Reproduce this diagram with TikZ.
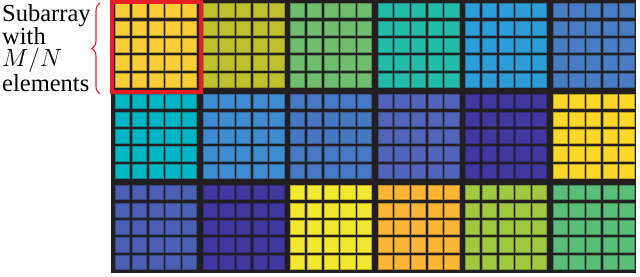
\documentclass[tikz,border=0pt]{standalone}
\usepackage{fontspec}
\setmainfont{Liberation Serif}
\usetikzlibrary{decorations.pathreplacing}
\definecolor{bgdark}{RGB}{35,31,32}
\definecolor{redmark}{RGB}{232,30,38}
\definecolor{cA}{RGB}{250,205,55}
\definecolor{cB}{RGB}{190,192,45}
\definecolor{cC}{RGB}{110,190,110}
\definecolor{cD}{RGB}{35,188,170}
\definecolor{cE}{RGB}{45,157,218}
\definecolor{cF}{RGB}{72,125,196}
\definecolor{cG}{RGB}{0,182,196}
\definecolor{cH}{RGB}{62,140,210}
\definecolor{cI}{RGB}{70,120,195}
\definecolor{cJ}{RGB}{82,100,185}
\definecolor{cK}{RGB}{65,55,160}
\definecolor{cL}{RGB}{252,215,40}
\definecolor{cM}{RGB}{75,95,180}
\definecolor{cN}{RGB}{65,55,160}
\definecolor{cO}{RGB}{242,232,45}
\definecolor{cP}{RGB}{252,182,52}
\definecolor{cQ}{RGB}{160,200,65}
\definecolor{cR}{RGB}{88,190,120}
\tikzset{
  cellbox/.style={fill=#1, draw=#1!75!black, line width=0.8pt},
  labeltext/.style={anchor=base west, inner sep=0pt, align=left,
    font=\fontsize{24.5}{22}\selectfont},
  bracemark/.style={draw=redmark, line width=1.1pt, decorate, decoration={brace, amplitude=8pt}},
  redframe/.style={draw=redmark, line width=4pt}
}
\begin{document}
\begin{tikzpicture}[x=1pt, y=-1pt]
\useasboundingbox (0,0) rectangle (640,276);
\fill[bgdark] (111,0) rectangle (636,273);
\foreach \c/\i/\j in {cA/0/0,cB/1/0,cC/2/0,cD/3/0,cE/4/0,cF/5/0,
                      cG/0/1,cH/1/1,cI/2/1,cJ/3/1,cK/4/1,cL/5/1,
                      cM/0/2,cN/1/2,cO/2/2,cP/3/2,cQ/4/2,cR/5/2}{
  \foreach \a in {0,...,4}{
    \foreach \b in {0,...,4}{
      \path[cellbox=\c] ({111+87.5*\i+4.5+16.7*\a},{91*\j+3.5+17.4*\b}) rectangle ++(14.3,14.3);
    }
  }
}
\draw[redframe] (112,2) rectangle (200.7,92);
\node[labeltext] (lbl) at (2,91) {Subarray\\with\\$M/N$\\elements};
\coordinate (bb) at (100,94);
\coordinate (bt) at (100,3);
\draw[bracemark] (bb) -- (bt);
\end{tikzpicture}
\end{document}
